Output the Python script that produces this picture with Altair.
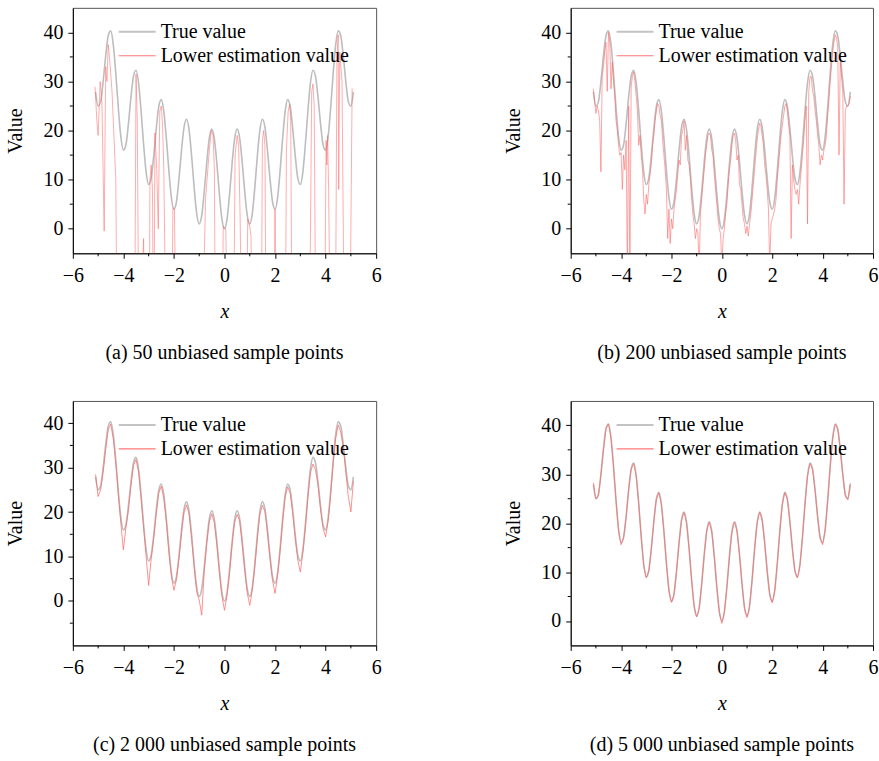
import altair as alt
import pandas as pd

FONT = "Liberation Serif, Times New Roman, serif"
GRAY = "#bdbdbd"
RED = "#ff6666"

# x positions of the sampled curves (even grids) -------------------------
GRID_01 = [round(-5.1 + 0.1 * i, 2) for i in range(103)]
GRID_005 = [round(-5.1 + 0.05 * i, 2) for i in range(205)]

# True value (gray curve), read at x = -5.1 ... 5.1 step 0.1
TRUE_Y = [27.9, 25.0, 25.9, 30.0, 35.2, 39.3, 40.3, 37.5, 31.6, 24.6,
          18.7, 16.0, 17.1, 21.4, 26.8, 31.1, 32.3, 29.7, 24.0, 17.2,
          11.5, 9.0, 10.3, 14.8, 20.4, 24.9, 26.3, 23.9, 18.4, 11.8,
          6.3, 4.0, 5.5, 10.2, 16.0, 20.7, 22.3, 20.1, 14.8, 8.4,
          3.1, 1.0, 2.7, 7.6, 13.6, 18.5, 20.3, 18.3, 13.2, 7.0,
          1.9, 0.0, 1.9, 7.0, 13.2, 18.3, 20.3, 18.5, 13.6, 7.6,
          2.7, 1.0, 3.1, 8.4, 14.8, 20.1, 22.3, 20.7, 16.0, 10.2,
          5.5, 4.0, 6.3, 11.8, 18.4, 23.9, 26.3, 24.9, 20.4, 14.8,
          10.3, 9.0, 11.5, 17.2, 24.0, 29.7, 32.3, 31.1, 26.8, 21.4,
          17.1, 16.0, 18.7, 24.6, 31.6, 37.5, 40.3, 39.3, 35.2, 30.0,
          25.9, 25.0, 27.9]

# (a) 50 samples: lower estimation (irregular x)
A_X = [-5.12, -5.05, -5.0, -4.92, -4.85, -4.76, -4.7, -4.65, -4.6, -4.55,
       -4.45, -4.3, -4.24, -3.56, -3.5, -3.45, -3.38, -3.2, -3.12, -2.98,
       -2.95, -2.9, -2.85, -2.8, -2.75, -2.68, -2.62, -2.56, -2.5, -2.45,
       -2.4, -2.3, -2.1, -2.04, -1.98, -1.9, -0.9, -0.75, -0.6, -0.52,
       -0.45, -0.4, -0.35, -0.1, -0.05, 0.05, 0.15, 0.35, 0.42, 0.5,
       0.56, 0.62, 0.7, 0.85, 0.92, 1.0, 1.05, 1.1, 1.45, 1.5,
       1.55, 1.6, 1.65, 1.95, 2.0, 2.05, 2.4, 2.45, 2.52, 2.58,
       2.62, 2.68, 3.35, 3.45, 3.5, 3.55, 3.62, 3.95, 4.02, 4.05,
       4.08, 4.12, 4.2, 4.38, 4.45, 4.5, 4.52, 4.56, 4.65, 4.75,
       4.95, 5.05]
A_Y = [28.9, 22, 19, 30, 26, -0.5, 33, 30, 37.5, 35,
       28, 10, -30, -30, 31.5, 22, -30, -2, -30, -30,
       10, 13, 8, -30, 19.5, 12, 0, 24, 25, 21,
       12, -30, -30, 4.3, 4.0, -30, -30, 6, 16, 20,
       19, 12, -30, -30, 0.5, 0, -30, -30, 15, 19,
       17, 2, -30, -30, 2, 0.5, -1.5, -30, -30, 18,
       20, 17, -30, -30, 4, -30, -30, 16, 24, 25.3,
       22, -30, -30, 28, 29.5, 25, -30, -30, 18, 13,
       19, 8, -30, -30, 35, 39.5, 8, 36, 30, -30,
       -30, 28.6]

# (b) 200 samples: lower estimation at x = -5.1 ... 5.1 step 0.05
B_Y = [28.5, 26, 23.5, 25, 24, 22, 11.6, 31, 33, 36, 38, 28, 40, 38, 28.5, 34, 30, 27, 22, 20,
       17, 15, 15.5, 8, 15, 12, 18, -10, 25, -10, 29, 31, 32, 30, 27, 24, 17, 19, 15, 12,
       6, 3, 7, 5, 9, 11, 13, 17, 19, 22, 24, 25.5, 25, 23, 22, 18, 15, 12, 8, -2,
       4, -3, 2, 0, 4, 6, 8, 11, 14, 13, 19, 20, 22, 16, 19, 14, 13, 10, 6, 3,
       1, -2, 0, -1, -8, 3, 6, 9, 12, 15, 17, 19, 19.5, 19, 16, 15, 11, 8, 5, 2,
       0, -1, -8, -2, 0, 3, 5, 9, 12, 14, 17, 19, 19.5, 18, 14, 15, 9, 8, 5, 2,
       1, -1, 0.5, -1.5, 1, 3, 6, 9, 12, 15, 18, 20, 21.5, 21, 19, 17, 13, 11, 8, 4,
       -8, 1, 2, 3, 4, 6, 10, 13, 16, 19, 21, 23, 25, 25.5, 24, 21, 19, -2, 13, 10,
       8, 7, 8, 5, 9, 12, 15, 18, 22, 25, 1, 28, 31, 31, 28, 27, 24, 22, 19, 17,
       13, 15, 14, 16, 17, 19, 23, 26, 30, 33, 36, 38, 39.5, 39, 37, 15, 34, 31, 28, 5,
       24, 25, 25, 25.5, 27]

# (c) 2 000 samples: lower estimation at x = -5.1 ... 5.1 step 0.1
C_Y = [28.5, 23.5, 25, 29, 34, 38.5, 39.8, 36.5, 31, 24,
       17.5, 11.5, 16.5, 20.5, 26, 30.5, 31.8, 29, 23, 16.5,
       10, 3.5, 9.5, 14, 19.5, 24.3, 25.8, 23, 17.8, 11,
       5.5, 2.4, 4.8, 9.5, 15.2, 20, 21.6, 19.5, 14, 7.5,
       2, 0.2, -3.2, 6.8, 13, 17.8, 19.6, 17.5, 12.5, 6.2,
       1, -2.1, 1.2, 6.3, 12.6, 17.6, 19.5, 17.9, 12.8, 6.9,
       1.8, -1, 2.4, 7.6, 14.1, 19.5, 21.5, 20.1, 15.3, 9.5,
       4.6, 1.7, 5.6, 11.1, 17.7, 23.3, 25.7, 24.2, 19.8, 14,
       9.2, 6.5, 10.8, 16.4, 23.2, 28.8, 30.8, 29.5, 26, 20.6,
       16.3, 14.4, 17.9, 23.8, 30.9, 36.6, 39.6, 38, 34.5, 29,
       23.5, 20, 27]

# (d) 5 000 samples: lower estimation at x = -5.1 ... 5.1 step 0.1
D_Y = [28.3, 25.0, 25.6, 30.0, 35.0, 39.3, 40.3, 37.3, 31.6, 24.5,
       18.5, 15.6, 17.1, 21.2, 26.8, 31.0, 32.2, 29.6, 24.0, 17.0,
       11.3, 8.8, 10.2, 14.7, 20.3, 24.9, 26.2, 23.8, 18.3, 11.6,
       6.2, 3.8, 5.4, 10.1, 15.9, 20.6, 22.2, 20.0, 14.7, 8.3,
       3.0, 0.8, 2.6, 7.5, 13.5, 18.4, 20.2, 18.2, 13.1, 6.9,
       1.7, -0.5, 1.8, 6.9, 13.1, 18.2, 20.2, 18.4, 13.5, 7.5,
       2.6, 0.7, 3.0, 8.3, 14.7, 20.0, 22.2, 20.6, 15.9, 10.1,
       5.4, 3.7, 6.2, 11.7, 18.3, 23.8, 26.2, 24.9, 20.3, 14.7,
       10.2, 8.8, 11.4, 17.1, 23.9, 29.6, 32.2, 31.0, 26.7, 21.3,
       17.0, 15.6, 18.6, 24.5, 31.5, 37.4, 40.2, 39.2, 35.1, 29.9,
       25.5, 24.8, 28.2]

X_TICKS = [-6, -4, -2, 0, 2, 4, 6]
X_MINOR = [-5, -3, -1, 1, 3, 5]
Y_TICKS = [0, 10, 20, 30, 40]
SERIES = ["True value", "Lower estimation value"]
TITLES = ["(a) 50 unbiased sample points", "(b) 200 unbiased sample points",
          "(c) 2 000 unbiased sample points", "(d) 5 000 unbiased sample points"]


def panel(red_x, red_y, ymin, y_minor, w, h, title, red_opacity):
    xscale = alt.Scale(domain=[-6, 6], nice=False, zero=False)
    yscale = alt.Scale(domain=[ymin, 45], nice=False, zero=False)
    xax = alt.Axis(values=X_TICKS, title="x", grid=False, labelFont=FONT, labelFontSize=20,
                   labelPadding=7, tickSize=5, titleFont=FONT, titleFontSize=20,
                   titleFontStyle="italic", titleFontWeight="normal", titlePadding=16,
                   labelFlush=False, labelOverlap=False)
    yax = alt.Axis(values=Y_TICKS, title="Value", grid=False, labelFont=FONT, labelFontSize=20,
                   labelPadding=5, tickSize=5, titleFont=FONT, titleFontSize=20,
                   titleFontWeight="normal", titleX=-57, titleY=h / 2, titleBaseline="middle",
                   labelFlush=False, labelOverlap=False)
    X = alt.X("x:Q", scale=xscale, axis=xax)
    Y = alt.Y("v:Q", scale=yscale, axis=yax)

    true_df = pd.DataFrame({"x": GRID_01, "v": TRUE_Y})
    red_df = pd.DataFrame({"x": red_x, "v": red_y})

    true_line = alt.Chart(true_df).mark_line(
        color=GRAY, strokeWidth=1.6, clip=True, interpolate="monotone").encode(x=X, y=Y)
    red_line = alt.Chart(red_df).mark_line(
        color=RED, strokeWidth=0.9, opacity=red_opacity, clip=True).encode(x=X, y=Y)

    minor_x = alt.Chart(pd.DataFrame({"x": X_MINOR})).mark_rule(
        color="black", strokeWidth=1).encode(x=X, y=alt.value(h), y2=alt.value(h + 3))
    minor_y = alt.Chart(pd.DataFrame({"v": y_minor})).mark_rule(
        color="black", strokeWidth=1).encode(y=Y, x=alt.value(0), x2=alt.value(-3))

    leg = []
    for i, (name, col, sw) in enumerate([(SERIES[0], GRAY, 2), (SERIES[1], RED, 1.2)]):
        yy = 24 + 24 * i
        leg.append(alt.Chart(pd.DataFrame({"label": [name]})).mark_rule(
            color=col, strokeWidth=sw, opacity=0.9).encode(
            x=alt.value(46), x2=alt.value(83), y=alt.value(yy)))
        leg.append(alt.Chart(pd.DataFrame({"label": [name]})).mark_text(
            font=FONT, fontSize=20, align="left", baseline="middle", color="black").encode(
            x=alt.value(88), y=alt.value(yy), text="label:N"))

    return alt.layer(true_line, red_line, minor_x, minor_y, *leg).properties(
        width=w, height=h,
        title=alt.TitleParams(title, orient="bottom", anchor="middle", font=FONT,
                              fontSize=20, fontWeight="normal", color="black", offset=22))


pa = panel(A_X, A_Y, -5, [5, 15, 25, 35], 304, 246, TITLES[0], 0.6)
pb = panel(GRID_005, B_Y, -5, [5, 15, 25, 35], 303, 246, TITLES[1], 0.65)
pc = panel(GRID_01, C_Y, -10, [-5, 5, 15, 25, 35], 304, 245, TITLES[2], 0.8)
pd_ = panel(GRID_01, D_Y, -5, [5, 15, 25, 35], 303, 245, TITLES[3], 0.8)

chart = alt.ConcatChart(
    concat=[pa, pb, pc, pd_], columns=2,
    spacing=alt.RowColnumber(row=148, column=195), bounds="flush"
).properties(
    padding={"left": 5, "top": 6, "right": 0, "bottom": 0}
).configure_view(
    stroke="#555555", strokeWidth=1
).configure_axis(
    domainColor="black", tickColor="black", labelColor="black", titleColor="black"
)

chart.save("out.html", embed_options={"renderer": "svg", "actions": False})
